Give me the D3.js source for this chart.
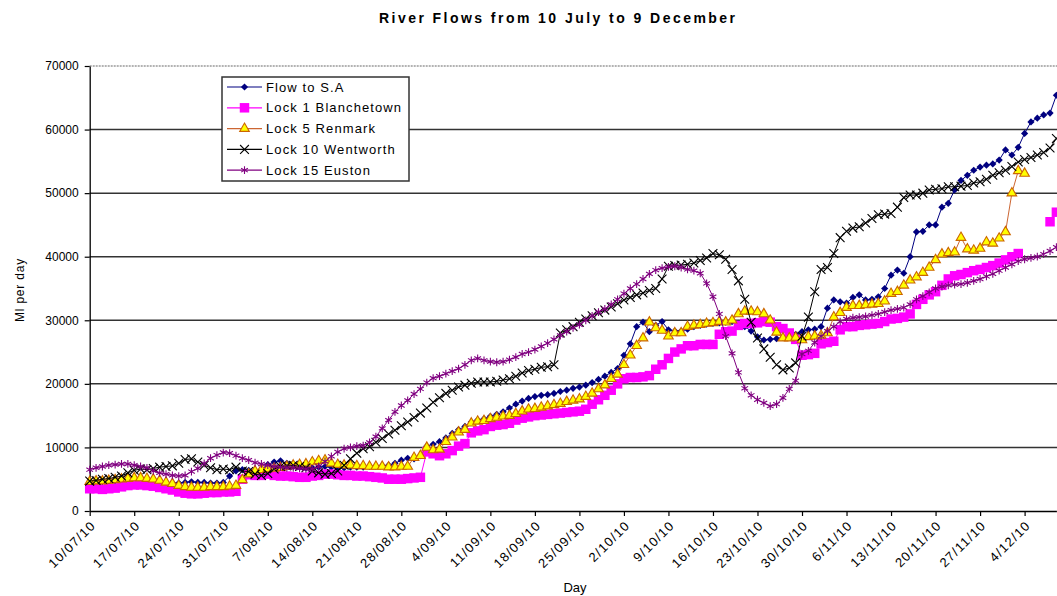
<!DOCTYPE html>
<html>
<head>
<meta charset="utf-8">
<script src="https://cdn.jsdelivr.net/npm/d3@7"></script>
<style>
  body { margin: 0; background: #fff; }
  svg { display: block; font-family: "Liberation Sans", Arial, sans-serif; }
</style>
</head>
<body>
<svg id="chart" width="1057" height="596"></svg>
<script>
// weekly tick labels (every 7th day starting 10/07/10)
const tickLabels = ["10/07/10", "17/07/10", "24/07/10", "31/07/10", "7/08/10", "14/08/10",
  "21/08/10", "28/08/10", "4/09/10", "11/09/10", "18/09/10", "25/09/10", "2/10/10",
  "9/10/10", "16/10/10", "23/10/10", "30/10/10", "6/11/10", "13/11/10", "20/11/10",
  "27/11/10", "4/12/10"];
const yTicks = [0, 10000, 20000, 30000, 40000, 50000, 60000, 70000];

// daily flows, Ml per day, 10 July .. 9 December (one row = one week)
const flowToSA = [
  4400, 4500, 4600, 4600, 4700, 4800, 4800,
  4900, 4900, 4800, 4700, 4600, 4500, 4400,
  4400, 4500, 4600, 4500, 4500, 4400, 4400,
  4500, 5500, 6300, 6500, 6400, 6300, 6500,
  7300, 7700, 7900, 7500, 7000, 6900, 6800,
  6800, 6900, 7000, 6900, 6800, 6800, 6900,
  6900, 6900, 7000, 7000, 7100, 7200, 7500,
  8000, 8300, 8200, 8700, 10200, 10500, 10900,
  11500, 12200, 12800, 13300, 14000, 14300, 14500,
  14900, 15200, 15600, 16200, 16800, 17300, 17700,
  18000, 18200, 18300, 18500, 18800, 19000, 19300,
  19500, 19800, 20200, 20700, 21200, 21800, 22400,
  24500, 26300, 29000, 29700, 28200, 29200, 29800,
  28500, 28300, 28300, 28600, 29000, 29200, 29400,
  29500, 29600, 29700, 29800, 29500, 29000, 28300,
  27400, 26900, 27000, 27100, 27300, 27500, 27800,
  28200, 28500, 28600, 29000, 31900, 33200, 32900,
  32700, 33600, 34000, 33200, 33300, 33700, 35000,
  37100, 37900, 37400, 40000, 43900, 44000, 45000,
  45000, 47800, 48400, 50500, 52000, 52800, 53600,
  54100, 54400, 54600, 55200, 56800, 56000, 57200,
  59400, 61200, 61800, 62300, 62600, 65400
];
const lock1 = [
  3500, 3500, 3400, 3500, 3600, 3800, 4000,
  4100, 4100, 4000, 3900, 3700, 3500, 3300,
  3000, 2800, 2700, 2700, 2800, 2900, 2900,
  3000, 3000, 3100, 5000, 5700, 5600, 5600,
  5800, 5600, 5500, 5500, 5400, 5300, 5300,
  5500, 5600, 5800, 5800, 5700, 5600, 5600,
  5500, 5500, 5400, 5300, 5200, 5000, 5000,
  5000, 5100, 5200, 5300, 9300, 9000, 8700,
  9000, 9500, 10200, 10600, 12300, 12600, 12800,
  13300, 13500, 13600, 13800, 14300, 14600, 14800,
  15000, 15100, 15200, 15300, 15400, 15500, 15600,
  15700, 16000, 16800, 17500, 18200, 19000, 20000,
  20800, 21000, 21000, 21100, 21300, 22300, 23000,
  24000, 25000, 25500, 26000, 26000, 26200, 26200,
  26200, 27800, 28200, 28300, 29200, 29500, 29500,
  29600, 29800, 29700, 29000, 28700, 28000, 27000,
  24500, 24600, 24800, 26300, 26500, 26700, 28500,
  29000, 29000, 29200, 29300, 29400, 29500, 29800,
  30200, 30300, 30500, 31000, 32500, 33300, 34000,
  34500, 35500, 36500, 37000, 37200, 37500, 37800,
  38000, 38300, 38600, 39000, 39500, 40000, 40500,
  null, null, null, null, 45500, 47000
];
const lock5 = [
  4600, 4700, 4700, 4800, 4900, 5000, 5100,
  5200, 5200, 5100, 5000, 4800, 4500, 4300,
  4000, 3800, 3700, 3700, 3700, 3800, 3800,
  3800, 3900, 4000, 4900, 5800, 6300, 6500,
  6600, 6700, 6800, 7000, 7200, 7300, 7400,
  7700, 7900, 8000, 7500, 7300, 7200, 7200,
  7100, 7100, 7000, 7000, 7000, 6900, 6900,
  7000, 7000, 8400, 8700, 10000, 9600, 9700,
  10900, 11600, 12400, 12800, 13800, 14100, 14200,
  14500, 14700, 14900, 15000, 15300, 15700, 16000,
  16100, 16300, 16500, 16700, 16900, 17200, 17400,
  17600, 18000, 18500, 19200, 19800, 20800, 21500,
  23000, 24500, 26000, 27200, 29700, 28800, 28400,
  27500, 28000, 28000, 29000, 29200, 29300, 29500,
  29600, 29800, 29700, 30000, 31000, 31400, 31400,
  31300, 31000, 30000, 28100, 27200, 27200, 27300,
  26900, 27400, 27500, 27600, 28000, 30500, 31200,
  32000, 32300, 32300, 32400, 32500, 32600, 33000,
  34200, 34500, 35500, 36300, 36800, 37500, 38300,
  39500, 40400, 40600, 40700, 43000, 41200, 41000,
  41300, 42300, 42100, 42900, 43900, 50000, 53500,
  53100, null, null, null, null, null
];
const lock10 = [
  4700, 4800, 5000, 5100, 5300, 5500, 6000,
  6400, 6600, 6500, 6700, 6900, 7000, 7100,
  7500, 8100, 8200, 7700, 7200, 6800, 6500,
  6600, 6500, 6900, 6300, 6200, 5800, 5600,
  5900, 6600, 7000, 7100, 7200, 7000, 6800,
  6300, 6000, 5800, 5900, 6300, 7200, 8200,
  9100, 9800, 10100, 10800, 11400, 12100, 12700,
  13400, 14000, 14700, 15400, 16200, 17100, 17800,
  18500, 19000, 19500, 19800, 20100, 20300, 20300,
  20300, 20400, 20600, 20800, 21200, 21700, 22100,
  22300, 22600, 22700, 23000, 28000, 28500, 29000,
  29700, 30200, 30700, 31200, 31600, 32100, 32600,
  33200, 33600, 34000, 34300, 34700, 35000, 36500,
  38500, 38600, 38700, 38800, 39000, 39400, 39800,
  40500, 40300, 39600, 38000, 36200, 33300, 29700,
  27200, 25500, 24200, 23000, 22200, 22500, 23300,
  27500, 30500, 34500, 38000, 38300, 40500, 43000,
  44000, 44500, 44700, 45300, 46000, 46600, 46700,
  46800, 47800, 49300, 49700, 49700, 50000, 50500,
  50600, 50700, 51000, 51000, 51100, 51200, 51600,
  51800, 52200, 52800, 53200, 53600, 54200, 54900,
  55300, 55600, 56000, 56400, 57100, 58600
];
const lock15 = [
  6500, 6800, 7000, 7200, 7300, 7400, 7400,
  7200, 7000, 6800, 6300, 6000, 5800, 5600,
  5500, 5600, 6200, 6700, 7500, 8300, 8800,
  9200, 9100, 8700, 8300, 8000, 7600, 7400,
  7200, 7000, 6900, 6800, 6800, 6700, 6600,
  6600, 7000, 7800, 8600, 9300, 9800, 10000,
  10200, 10300, 10800, 11700, 13000, 14300, 15600,
  16600, 17400, 18400, 19200, 20200, 20900, 21200,
  21600, 22000, 22400, 23000, 23700, 24000, 23700,
  23500, 23400, 23500, 23800, 24200, 24700, 25000,
  25400, 25900, 26400, 27000, 27600, 28200, 28800,
  29300, 30000, 30700, 31300, 31800, 32500, 33300,
  34200, 35000, 35700, 36500, 37300, 37900, 38200,
  38400, 38500, 38300, 38000, 37800, 37400, 35800,
  33700, 31000, 27500, 24800, 21800, 19300, 18200,
  17500, 17000, 16500, 16800, 17800, 19200, 20500,
  24700, 25200, 26500, 27500, 28300, 29000, 29800,
  30200, 30400, 30500, 30600, 30800, 31000, 31300,
  31600, 31800, 32000, 32500, 33300, 33800, 34400,
  35000, 35300, 35500, 35600, 35700, 35900, 36200,
  36500, 36900, 37300, 37800, 38300, 38800, 39300,
  39600, 39800, 40000, 40400, 40900, 41500
];

const series = [
  { name: "Flow to S.A", values: flowToSA, line: "#000080", fill: "#000080", stroke: "none", type: d3.symbolSquare, size: 26, rotate: 45 },
  { name: "Lock 1 Blanchetown", values: lock1, line: "#ff00ff", fill: "#ff00ff", stroke: "none", type: d3.symbolSquare, size: 90, rotate: 0 },
  { name: "Lock 5 Renmark", values: lock5, line: "#cc6633", fill: "#ffff00", stroke: "#cc6600", type: d3.symbolTriangle, size: 40, rotate: 0 },
  { name: "Lock 10 Wentworth", values: lock10, line: "#000000", fill: "none", stroke: "#000000", type: d3.symbolX, size: 52, rotate: 0 },
  { name: "Lock 15 Euston", values: lock15, line: "#800080", fill: "none", stroke: "#800080", type: d3.symbolAsterisk, size: 42, rotate: 0 }
];

const svg = d3.select("#chart");
const W = 1057;
const x = d3.scaleLinear().domain([0, flowToSA.length - 1]).range([89.7, 1056.4]);
const y = d3.scaleLinear().domain([0, 70000]).range([511, 66]);

// title
svg.append("text")
  .attr("x", 557).attr("y", 23)
  .attr("text-anchor", "middle")
  .attr("font-size", 14).attr("font-weight", "bold")
  .attr("textLength", 356).attr("lengthAdjust", "spacing")
  .text("River Flows from 10 July to 9 December");

// gridlines
svg.append("g").selectAll("line")
  .data(yTicks.filter(v => v > 0))
  .join("line")
  .attr("x1", x(0)).attr("x2", W)
  .attr("y1", d => y(d)).attr("y2", d => y(d))
  .attr("stroke", d => d === 70000 ? "#9a9a9a" : "#333")
  .attr("stroke-width", 1.5)
  .attr("stroke-dasharray", d => d === 70000 ? "2,1" : null);

// axes
const yAxis = svg.append("g")
  .attr("transform", `translate(${x(0)},0)`)
  .call(d3.axisLeft(y).tickValues(yTicks).tickFormat(d3.format("d")).tickSize(5).tickSizeOuter(0));
yAxis.selectAll("text").attr("font-size", 12).attr("font-family", null).attr("x", -11);

const tickDays = tickLabels.map((_, i) => i * 7);
const xAxis = svg.append("g")
  .attr("transform", `translate(0,${y(0)})`)
  .call(d3.axisBottom(x).tickValues(tickDays).tickFormat((d, i) => tickLabels[i]).tickSize(5).tickSizeOuter(0));
xAxis.selectAll("text")
  .attr("font-size", 13).attr("font-family", null).attr("letter-spacing", 1.2)
  .attr("x", 0).attr("y", 0).attr("dy", "0.35em")
  .attr("text-anchor", "end")
  .attr("transform", "translate(3,12) rotate(-45)");
svg.selectAll(".domain").attr("stroke", "#000").attr("stroke-width", 1.3);
svg.selectAll(".tick line").attr("stroke", "#000").attr("stroke-width", 1.2);

// axis titles
svg.append("text")
  .attr("transform", "translate(24,290) rotate(-90)")
  .attr("text-anchor", "middle").attr("font-size", 12).attr("letter-spacing", 0.8)
  .text("Ml per day");
svg.append("text")
  .attr("x", 575).attr("y", 592)
  .attr("text-anchor", "middle").attr("font-size", 13)
  .text("Day");

// series
const line = d3.line()
  .defined(d => d != null)
  .x((d, i) => x(i))
  .y(d => y(d));

const symbolPath = s => d3.symbol().type(s.type).size(s.size)();

series.forEach(s => {
  const g = svg.append("g");
  g.append("path")
    .attr("d", line(s.values))
    .attr("fill", "none")
    .attr("stroke", s.line)
    .attr("stroke-width", 1);
  g.selectAll("path.mk")
    .data(s.values.map((v, i) => ({ v, i })).filter(d => d.v != null))
    .join("path")
    .attr("class", "mk")
    .attr("d", symbolPath(s))
    .attr("transform", d => `translate(${x(d.i)},${y(d.v)}) rotate(${s.rotate})`)
    .attr("fill", s.fill)
    .attr("stroke", s.stroke)
    .attr("stroke-width", 1.1);
});

// legend
const legend = svg.append("g");
legend.append("rect")
  .attr("x", 222).attr("y", 77).attr("width", 187).attr("height", 104)
  .attr("fill", "#fff").attr("stroke", "#333").attr("stroke-width", 1.5);
series.forEach((s, i) => {
  const cy = 87 + i * 20.8;
  legend.append("line")
    .attr("x1", 227).attr("x2", 262).attr("y1", cy).attr("y2", cy)
    .attr("stroke", s.line).attr("stroke-width", 1.2);
  legend.append("path")
    .attr("d", symbolPath(s))
    .attr("transform", `translate(244.5,${cy}) rotate(${s.rotate})`)
    .attr("fill", s.fill).attr("stroke", s.stroke).attr("stroke-width", 1.1);
  legend.append("text")
    .attr("x", 266).attr("y", cy).attr("dy", "0.36em")
    .attr("font-size", 13).attr("letter-spacing", 1.1)
    .text(s.name);
});
</script>
</body>
</html>
